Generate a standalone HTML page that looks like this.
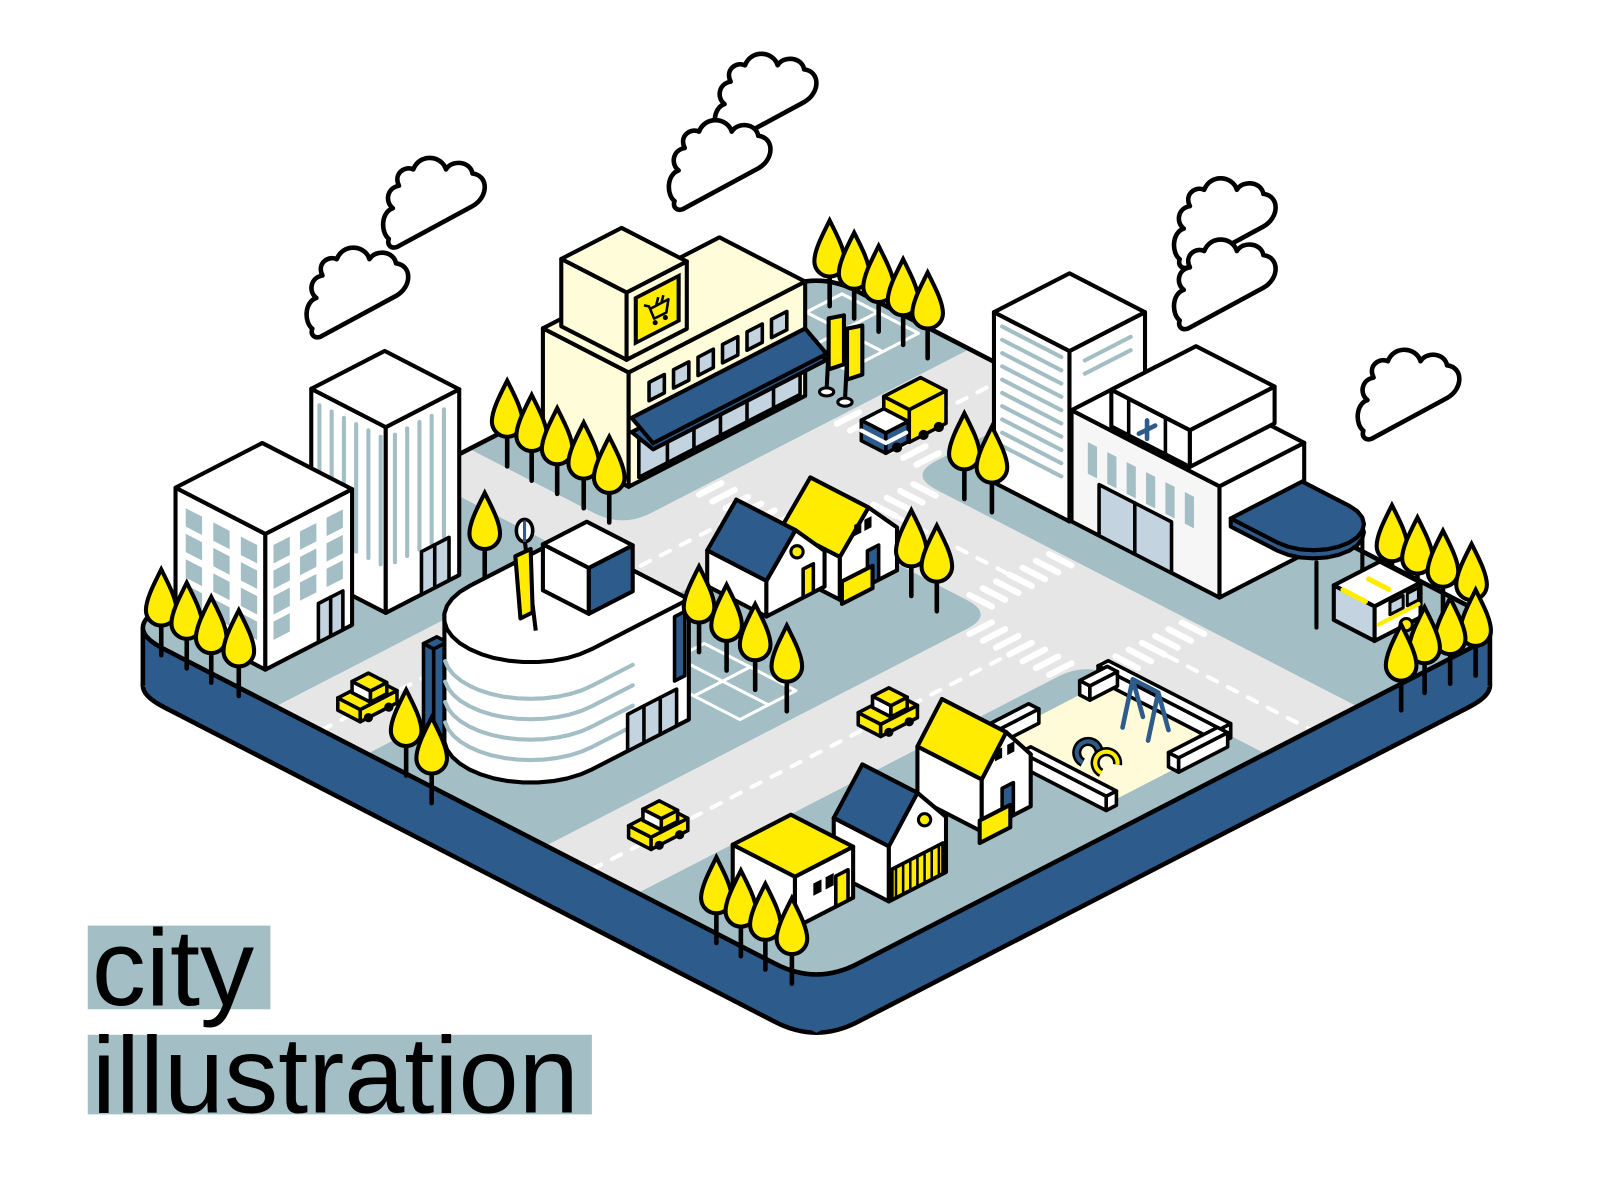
<!DOCTYPE html>
<html><head><meta charset="utf-8"><style>
html,body{margin:0;padding:0;background:#fff;}
svg{display:block;}
</style></head><body>
<svg id="s" width="1601" height="1201" viewBox="0 0 1601 1201" xmlns="http://www.w3.org/2000/svg">
<g transform="scale(1.0205)">
<g id="art"></g>
<rect x="86" y="907" width="179" height="82" fill="#a3bfc5"/>
<rect x="86" y="1014" width="494" height="78" fill="#a3bfc5"/>
<text x="90" y="985" font-family="Liberation Sans, Arial, sans-serif" font-size="106" fill="#000">city</text>
<text x="90" y="1090" font-family="Liberation Sans, Arial, sans-serif" font-size="106" fill="#000">illustration</text>
</g>
</svg>
<script>
const K=0.515,S=[];
const Y='#ffec00',N='#2d5b8b',W='#fff',C='#fffcd9',G='#a3bfc5',L='#c3d3e0',R='#e6e6e6';
function P(a,b,h=0){return [120+a+b,615+K*(a-b)-h];}
function f(n){return (+n).toFixed(1);}
function pts(arr){return arr.map(p=>f(p[0])+','+f(p[1])).join(' ');}
function poly(arr,fill,sw=4,stroke){stroke=stroke||(sw?'#000':'none');S.push(`<polygon points="${pts(arr)}" fill="${fill}" stroke="${stroke}" stroke-width="${sw}" stroke-linejoin="round"/>`);}
function line(arr,stroke,sw,extra=''){S.push(`<polyline points="${pts(arr)}" fill="none" stroke="${stroke}" stroke-width="${sw}" stroke-linecap="round" stroke-linejoin="round" ${extra}/>`);}
function box(a0,a1,b0,b1,h0,h1,top,lf,rf,sw=4){
 poly([P(a0,b0,h0),P(a1,b0,h0),P(a1,b0,h1),P(a0,b0,h1)],lf,sw);
 poly([P(a1,b0,h0),P(a1,b1,h0),P(a1,b1,h1),P(a1,b0,h1)],rf,sw);
 poly([P(a0,b0,h1),P(a1,b0,h1),P(a1,b1,h1),P(a0,b1,h1)],top,sw);
}
function lq(b,a0,a1,h0,h1,fill,sw=0){poly([P(a0,b,h0),P(a1,b,h0),P(a1,b,h1),P(a0,b,h1)],fill,sw);}
function rq(a,b0,b1,h0,h1,fill,sw=0){poly([P(a,b0,h0),P(a,b1,h0),P(a,b1,h1),P(a,b0,h1)],fill,sw);}
function irr(a0,a1,b0,b1,r,dy=0){
 const q=(a,b)=>{const p=P(a,b);return f(p[0])+','+f(p[1]+dy);};
 return `M${q(a0+r,b0)} L${q(a1-r,b0)} Q${q(a1,b0)} ${q(a1,b0+r)} L${q(a1,b1-r)} Q${q(a1,b1)} ${q(a1-r,b1)} L${q(a0+r,b1)} Q${q(a0,b1)} ${q(a0,b1-r)} L${q(a0,b0+r)} Q${q(a0,b0)} ${q(a0+r,b0)} Z`;
}
function hull(p){p=p.slice().sort((a,b)=>a[0]-b[0]||a[1]-b[1]);const cr=(o,a,b)=>(a[0]-o[0])*(b[1]-o[1])-(a[1]-o[1])*(b[0]-o[0]);const lo=[],up=[];for(const q of p){while(lo.length>=2&&cr(lo[lo.length-2],lo[lo.length-1],q)<=0)lo.pop();lo.push(q);}for(const q of p.slice().reverse()){while(up.length>=2&&cr(up[up.length-2],up[up.length-1],q)<=0)up.pop();up.push(q);}return lo.slice(0,-1).concat(up.slice(0,-1));}
function tree(x,y){
 S.push(`<line x1="${x}" y1="${y+40}" x2="${x}" y2="${y+82}" stroke="#000" stroke-width="4.5" stroke-linecap="round"/>`);
 S.push(`<path d="M${x},${y-2} C${x+7},${y+12} ${x+15},${y+27} ${x+15},${y+38} A15,15 0 0 1 ${x-15},${y+38} C${x-15},${y+27} ${x-7},${y+12} ${x},${y-2}Z" fill="${Y}" stroke="#000" stroke-width="4"/>`);
}
function cloud(x,y){
 S.push(`<path transform="translate(${x},${y})" d="M14,0 L88,-40 C104,-49 104,-70 88,-72 C86,-84 68,-86 62,-76 C58,-90 36,-92 30,-76 C22,-80 10,-72 16,-60 C4,-58 2,-44 10,-38 C-2,-34 -2,-14 6,-8 C4,-2 8,2 14,0 Z" fill="#fff" stroke="#000" stroke-width="4.5" stroke-linejoin="round"/>`);
}
function house(a0,a1,b0,b1,wh,rh,roof){
 const bm=(b0+b1)/2;
 poly([P(a0,bm,rh),P(a1,bm,rh),P(a1,b1,wh),P(a0,b1,wh)],roof);
 poly([P(a0,b0,0),P(a1,b0,0),P(a1,b0,wh),P(a0,b0,wh)],W);
 poly([P(a1,b0,0),P(a1,b1,0),P(a1,b1,wh),P(a1,bm,rh),P(a1,b0,wh)],W);
 poly([P(a0,b0,wh),P(a1,b0,wh),P(a1,bm,rh),P(a0,bm,rh)],roof);
}
function car(a,b){
 box(a-11,a+11,b-18,b+18,3,15,Y,Y,Y,3.5);
 box(a-9,a+9,b-6,b+10,15,26,Y,W,Y,3.5);
 const w1=P(a+11,b-10,3),w2=P(a+11,b+10,3);
 S.push(`<circle cx="${f(w1[0])}" cy="${f(w1[1])}" r="4.5" fill="#000"/><circle cx="${f(w2[0])}" cy="${f(w2[1])}" r="4.5" fill="#000"/>`);
}
const dash='stroke-dasharray="10 12"';

cloud(300,330);cloud(375,242);cloud(700,140);cloud(655,205);cloud(1150,262);cloud(1150,322);cloud(1330,430);

S.push(`<path d="${irr(0,680,0,680,40,57)}" fill="${N}" stroke="#000" stroke-width="4.5"/>`);
S.push(`<polygon points="140,615 800,955 1460,615 1460,672 800,1012 140,672" fill="${N}"/>`);
S.push(`<line x1="140" y1="615" x2="140" y2="672" stroke="#000" stroke-width="4.5"/><line x1="1460" y1="615" x2="1460" y2="672" stroke="#000" stroke-width="4.5"/>`);
S.push(`<clipPath id="cp"><path d="${irr(0,680,0,680,40)}"/></clipPath>`);
S.push(`<path d="${irr(0,680,0,680,40)}" fill="${R}"/>`);
S.push(`<g clip-path="url(#cp)">`);
[[-40,150,-40,290],[-40,150,340,720],[240,415,-40,440],[240,720,530,720],[505,720,-40,440]].forEach(q=>S.push(`<path d="${irr(q[0],q[1],q[2],q[3],28)}" fill="${G}"/>`));
line([P(195,0),P(195,425)],W,4,dash);line([P(195,545),P(195,680)],W,4,dash);
line([P(460,0),P(460,425)],W,4,dash);
line([P(255,485),P(400,485)],W,4,dash);line([P(520,485),P(680,485)],W,4,dash);
function cwA(a0,a1,bc){for(let a=a0+6;a<=a1-6;a+=13)line([P(a,bc-11),P(a,bc+11)],W,6,'stroke-linecap="butt"');}
function cwB(b0,b1,ac){for(let b=b0+6;b<=b1-6;b+=13)line([P(ac-11,b),P(ac+11,b)],W,6,'stroke-linecap="butt"');}
cwA(150,240,420);cwA(150,240,555);cwA(415,505,420);
cwB(440,530,262);cwB(440,530,395);cwB(440,530,525);
poly([P(35,600),P(110,600),P(110,670),P(35,670)],'none',3,'#fff');
line([P(70,600),P(70,670)],W,3);line([P(35,635),P(110,635)],W,3);
poly([P(300,215),P(390,215),P(390,270),P(300,270)],'none',3,'#fff');
line([P(345,215),P(345,270)],W,3);line([P(300,243),P(390,243)],W,3);
S.push(`</g>`);
S.push(`<path d="${irr(0,680,0,680,40)}" fill="none" stroke="#000" stroke-width="4.5"/>`);

[[813,218],[837,230],[861,243],[885,256],[909,269]].forEach(t=>tree(t[0],t[1]));
box(30,114,382,555,0,112,C,C,C);
box(37,101,393,452,112,178,C,C,C);
rq(101,400,446,122,170,'#000',0);rq(101,404,442,126,166,Y,0);
{const c=P(101,423,146),x=c[0],y=c[1];
 S.push(`<path d="M${f(x-13)},${f(y-4)} L${f(x-8)},${f(y-3)} L${f(x-3)},${f(y+9)} L${f(x+9)},${f(y+3)} L${f(x+11)},${f(y-10)} L${f(x-6)},${f(y-1)} M${f(x-1)},${f(y-4)} L${f(x+1)},${f(y-12)} M${f(x+4)},${f(y-6)} L${f(x+6)},${f(y-14)}" fill="none" stroke="#000" stroke-width="2.5" stroke-linejoin="round"/><circle cx="${f(x-2)}" cy="${f(y+13)}" r="2.5"/><circle cx="${f(x+8)}" cy="${f(y+8)}" r="2.5"/>`);}
for(let b=402;b<545;b+=24)rq(114,b,b+15,74,92,L,3.5);
rq(114,392,550,4,48,L,3.5);
for(let b=420;b<550;b+=26)line([P(114,b,4),P(114,b,48)],'#000',3.5);
poly([P(114,385,52),P(114,555,52),P(135,555,46),P(135,385,46)],N);
poly([P(114,385,66),P(114,555,66),P(135,555,52),P(135,385,52)],N);
[[812,312],[830,322]].forEach(q=>{S.push(`<line x1="${q[0]}" y1="${q[1]+30}" x2="${q[0]-2}" y2="${q[1]+70}" stroke="#000" stroke-width="4"/><ellipse cx="${q[0]-2}" cy="${q[1]+72}" rx="7" ry="4" fill="#fff" stroke="#000" stroke-width="3"/><polygon points="${q[0]},${q[1]} ${q[0]+15},${q[1]-3} ${q[0]+15},${q[1]+45} ${q[0]},${q[1]+50}" fill="${Y}" stroke="#000" stroke-width="4" stroke-linejoin="round"/>`);});
box(42,115,143,215,0,182,W,W,W);
for(let a=50;a<112;a+=12)line([P(a,143,45),P(a,143,170)],G,4);
for(let b=152;b<212;b+=12)line([P(115,b,45),P(115,b,170)],G,4);
rq(115,178,205,0,42,L,3.5);line([P(115,191,0),P(115,191,42)],'#000',3.5);
box(22,110,30,115,0,133,W,W,W);
for(let r=0;r<4;r++)for(let c=0;c<3;c++){lq(30,32+c*27,48+c*27,100-r*25,118-r*25,G);}
for(let r=0;r<4;r++)for(let c=0;c<3;c++){if(r===3&&c>0)continue;rq(110,38+c*26,54+c*26,100-r*25,118-r*25,G);}
rq(110,82,106,0,38,L,3.5);line([P(110,94,0),P(110,94,38)],'#000',3.5);
box(289,363,565,639,0,167,W,W,W);
for(let h=40;h<160;h+=13)line([P(297,565,h),P(355,565,h)],G,4);
line([P(363,580,150),P(363,625,150)],G,4);line([P(363,580,137),P(363,625,137)],G,4);
box(364,509,566,649,0,109,W,'#f6f6f6',W);
for(let a=380;a<486;a+=19)lq(566,a,a+9,55,86,G);
lq(566,391,462,0,50,L,3.5);line([P(426,566,0),P(426,566,50)],'#000',3.5);
box(399,476,570,653,109,145,W,W,W);
line([P(416,570,109),P(416,570,145)],'#000',3.5);line([P(452,570,109),P(452,570,145)],'#000',3.5);
{const c=P(434,570,124);S.push(`<path d="M${f(c[0]-8)},${f(c[1]+4)} L${f(c[0]+8)},${f(c[1]-4)} M${f(c[0])},${f(c[1]-9)} L${f(c[0])},${f(c[1]+9)}" stroke="${N}" stroke-width="4.5" stroke-linecap="round"/>`);}
{const arc=[];for(let i=0;i<=12;i++){const t=-Math.PI/2+Math.PI*i/12;arc.push([555+35*Math.cos(t),612+35*Math.sin(t)]);}
 const top=[[509,577],...arc,[509,647]].map(q=>P(q[0],q[1],72));
 line([P(585,585,0),P(585,585,64)],'#000',4);line([P(575,640,0),P(575,640,64)],'#000',4);
 const rim=[[509,577],...arc,[509,647]].map(q=>P(q[0],q[1],64));
 poly(top.concat(rim.slice().reverse()),N);
 poly(top,N);}
[[945,407],[972,420]].forEach(t=>tree(t[0],t[1]));
box(190,215,556,592,6,38,Y,Y,Y,3.5);
box(190,214,534,556,6,26,W,N,N,3.5);line([P(190,534,16),P(214,534,16)],W,4);line([P(214,536,16),P(214,554,16)],W,4);
[[214,545],[215,570],[215,585]].forEach(q=>{const w=P(q[0],q[1],6);S.push(`<circle cx="${f(w[0])}" cy="${f(w[1])}" r="5" fill="#000"/>`);});
[[497,375],[521,389],[546,402],[572,416],[597,430]].forEach(t=>tree(t[0],t[1]));
tree(475,485);
box(255,265,40,53,0,95,N,N,N,3.5);
{const F=[[365,190],[365,95]];for(let i=0;i<=18;i++){const t=Math.PI*i/18;F.push([305+60*Math.cos(t),95-60*Math.sin(t)]);}F.push([245,190]);
 const H=118;const all=F.map(q=>P(q[0],q[1],0)).concat(F.map(q=>P(q[0],q[1],H)));
 poly(hull(all),W);poly(F.map(q=>P(q[0],q[1],H)),W);
 for(const h of [22,42,62,82]){const L2=[P(365,135,h),P(365,95,h)];for(let i=0;i<=14;i++){const t=2.2*i/14;L2.push(P(305+60*Math.cos(t),95-60*Math.sin(t),h));}line(L2,G,4);}
 rq(365,130,178,0,36,L,3.5);line([P(365,146,0),P(365,146,36)],'#000',3.5);line([P(365,162,0),P(365,162,36)],'#000',3.5);
 rq(365,176,186,45,108,N,3.5);}
box(285,330,127,170,118,163,W,W,N);
S.push(`<line x1="514" y1="528" x2="525" y2="618" stroke="#000" stroke-width="4"/><ellipse cx="514" cy="520" rx="8" ry="11" fill="#fff" stroke="#000" stroke-width="3.5"/><line x1="514" y1="510" x2="514" y2="531" stroke="${N}" stroke-width="3"/><polygon points="505,545 520,538 522,600 510,606" fill="${Y}" stroke="#000" stroke-width="4" stroke-linejoin="round"/>`);
house(268,325,378,434,42,76,Y);
{rq(325,392,399,55,66,'#000',0);rq(325,402,409,55,66,'#000',0);rq(325,405,416,0,34,N,3.5);}
house(247,305,326,383,35,70,N);
{const c=P(305,356,48);S.push(`<circle cx="${f(c[0])}" cy="${f(c[1])}" r="6" fill="${Y}" stroke="#000" stroke-width="3"/>`);rq(305,362,372,0,28,Y,3.5);}
poly([P(330,375,0),P(330,405,0),P(330,405,22),P(330,375,22)],Y);
[[893,502],[918,517]].forEach(t=>tree(t[0],t[1]));
[[685,557],[712,575],[740,594],[771,615]].forEach(t=>tree(t[0],t[1]));
[[1364,497],[1389,509],[1414,522],[1442,535]].forEach(t=>tree(t[0],t[1]));
/* van */
box(592,632,595,640,6,40,W,L,W,4);
line([P(632,599,20),P(632,638,20)],Y,4);line([P(601,595,40),P(623,595,40)],Y,5);line([P(603,618,40),P(623,618,40)],Y,5);
rq(632,610,623,24,36,L,3);rq(632,627,638,24,36,L,3);
{const w=P(632,626,6);S.push(`<circle cx="${f(w[0])}" cy="${f(w[1])}" r="6" fill="${Y}" stroke="#000" stroke-width="3"/>`);}
[[1446,580],[1421,588],[1396,597],[1373,614]].forEach(t=>tree(t[0],t[1]));
[[158,560],[183,573],[207,587],[234,600]].forEach(t=>tree(t[0],t[1]));
car(198,42);
[[398,678],[423,705]].forEach(t=>tree(t[0],t[1]));
poly([P(533,315),P(650,315),P(650,432),P(533,432)],'#fffbd8',0);
box(528,648,428,438,0,14,W,W,W,3.5);
box(533,543,405,432,0,14,W,W,W,3.5);
box(645,655,380,428,0,14,W,W,W,3.5);
box(530,540,318,358,0,14,W,W,W,3.5);
box(572,656,308,318,0,14,W,W,W,3.5);
{const a1=P(585,395,0),a2=P(585,415,0),t=P(585,405,42),b1=P(610,395,0),b2=P(610,415,0),t2=P(610,405,42);
 S.push(`<path d="M${f(a1[0])},${f(a1[1])} L${f(t[0])},${f(t[1])} L${f(a2[0])},${f(a2[1])} M${f(b1[0])},${f(b1[1])} L${f(t2[0])},${f(t2[1])} L${f(b2[0])},${f(b2[1])} M${f(t[0])},${f(t[1])} L${f(t2[0])},${f(t2[1])}" stroke="${N}" stroke-width="4.5" fill="none" stroke-linecap="round"/>`);
 const tc=P(605,352,0),x=tc[0],y=tc[1];
 S.push(`<path d="M${f(x-16)},${f(y+2)} a11,11 0 1 1 16,-8" fill="none" stroke="#000" stroke-width="9"/><path d="M${f(x-16)},${f(y+2)} a11,11 0 1 1 16,-8" fill="none" stroke="${N}" stroke-width="4"/><path d="M${f(x+2)},${f(y+12)} a11,11 0 1 1 16,-8" fill="none" stroke="#000" stroke-width="9"/><path d="M${f(x+2)},${f(y+12)} a11,11 0 1 1 16,-8" fill="none" stroke="${Y}" stroke-width="4"/>`);}
car(467,283);car(462,63);
house(552,615,227,275,51,85,Y);
rq(615,240,247,62,72,'#000',0);rq(615,252,259,62,72,'#000',0);rq(615,247,258,0,32,N,3.5);
poly([P(625,215,0),P(625,245,0),P(625,245,22),P(625,215,22)],Y);
house(582,636,115,171,54,92,N);
rq(636,118,168,0,30,Y,3.5);for(let b=122;b<168;b+=7)line([P(636,b,2),P(636,b,28)],'#000',2.5);
{const c=P(636,150,62);S.push(`<circle cx="${f(c[0])}" cy="${f(c[1])}" r="6" fill="${Y}" stroke="#000" stroke-width="3"/>`);}
box(554,615,44,101,0,50,Y,W,W);
rq(615,62,70,22,34,'#000',0);rq(615,74,82,22,34,'#000',0);rq(615,84,96,0,30,Y,3.5);
[[702,842],[726,855],[750,868],[776,882]].forEach(t=>tree(t[0],t[1]));

document.getElementById('art').innerHTML=S.join('');
</script>
</body></html>
